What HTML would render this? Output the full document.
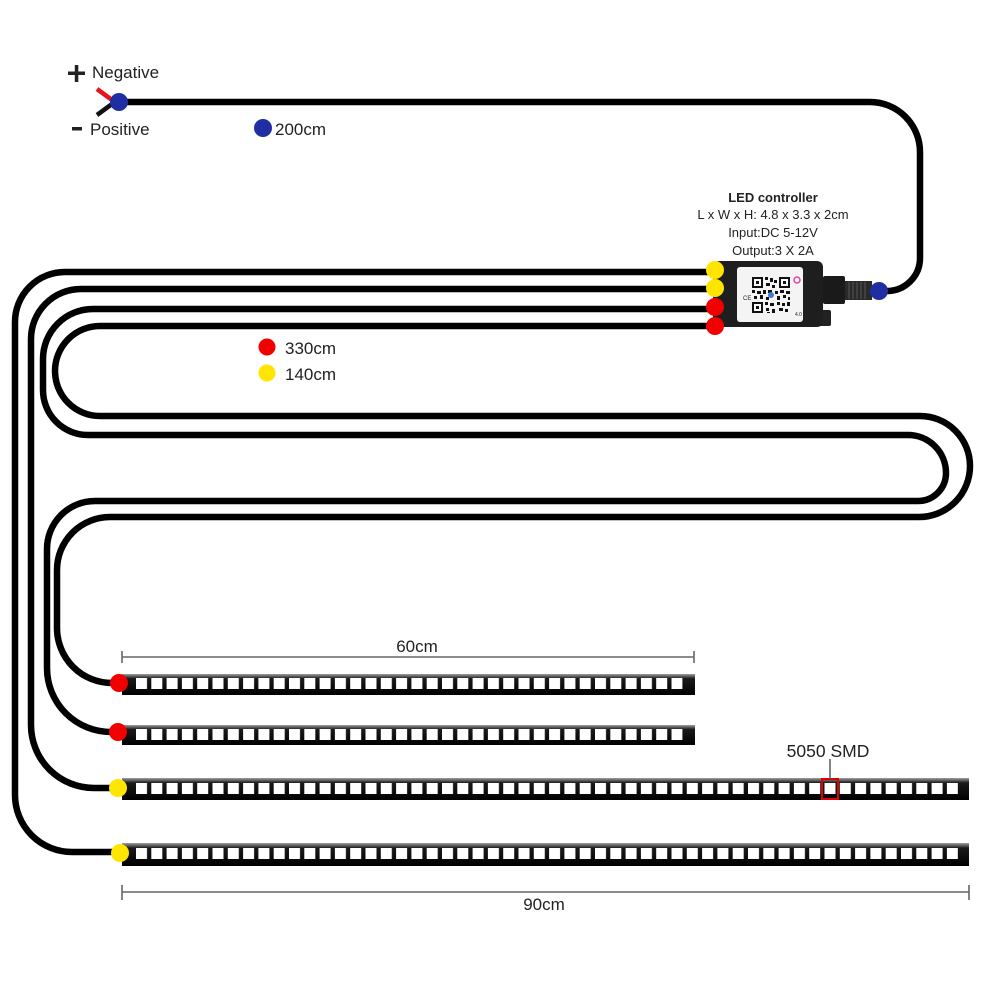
<!DOCTYPE html>
<html>
<head>
<meta charset="utf-8">
<style>
  html,body{margin:0;padding:0;background:#fff;}
  svg{display:block;}
  text{font-family:"Liberation Sans", Arial, sans-serif;fill:#222;}
</style>
</head>
<body>
<svg width="1000" height="1000" viewBox="0 0 1000 1000" xmlns="http://www.w3.org/2000/svg">
  <defs>
    <linearGradient id="sg" x1="0" y1="0" x2="0" y2="1">
      <stop offset="0" stop-color="#a0a0a0"/>
      <stop offset="0.22" stop-color="#1a1a1a"/>
      <stop offset="1" stop-color="#000"/>
    </linearGradient>
    <pattern id="p1" patternUnits="userSpaceOnUse" x="136" y="678" width="15.3" height="11">
      <rect x="0" y="0" width="11" height="11" fill="#fff"/>
    </pattern>
    <pattern id="p2" patternUnits="userSpaceOnUse" x="136" y="729" width="15.3" height="11">
      <rect x="0" y="0" width="11" height="11" fill="#fff"/>
    </pattern>
    <pattern id="p3" patternUnits="userSpaceOnUse" x="136" y="783" width="15.3" height="11">
      <rect x="0" y="0" width="11" height="11" fill="#fff"/>
    </pattern>
    <pattern id="p4" patternUnits="userSpaceOnUse" x="136" y="848" width="15.3" height="11">
      <rect x="0" y="0" width="11" height="11" fill="#fff"/>
    </pattern>
  </defs>

  <!-- Wires -->
  <g fill="none" stroke="#000" stroke-width="6.5">
    <path d="M118,102 H870 A50,50 0 0 1 920,152 V258 A33,33 0 0 1 887,291"/>
    <path d="M715,272 H65 A50,50 0 0 0 15,322 V795 A57,57 0 0 0 72,852 H120"/>
    <path d="M715,289 H81 A50,50 0 0 0 31,339 V725 A63,63 0 0 0 94,788 H118"/>
    <path d="M715,309 H93 A50,50 0 0 0 43,359 V390 A45,45 0 0 0 88,435 H908 A38,38 0 0 1 946,473 A28,28 0 0 1 918,501 H95 A48,48 0 0 0 47,549 V668 A64,64 0 0 0 111,732 H118"/>
    <path d="M715,326 H100 A45,45 0 0 0 100,416 H920 A50,50 0 0 1 970,466 A51,51 0 0 1 919,517 H110 A53,53 0 0 0 57,570 V628 A55,55 0 0 0 112,683 H118"/>
  </g>

  <!-- Top-left power connector -->
  <line x1="97" y1="89" x2="112" y2="100" stroke="#e8141a" stroke-width="4.5"/>
  <line x1="97" y1="115" x2="112" y2="104" stroke="#111" stroke-width="4.5"/>
  <circle cx="119" cy="102" r="9" fill="#1f2fa3"/>
  <rect x="68" y="71.5" width="17" height="3.5" fill="#222"/>
  <rect x="74.8" y="65" width="3.5" height="17" fill="#222"/>
  <rect x="72" y="127" width="10" height="3.5" fill="#222"/>
  <text x="92" y="78" font-size="17">Negative</text>
  <text x="90" y="135" font-size="17">Positive</text>
  <circle cx="263" cy="128" r="9" fill="#1f2fa3"/>
  <text x="275" y="135" font-size="17">200cm</text>

  <!-- Legend -->
  <circle cx="267" cy="347" r="8.5" fill="#f20000"/>
  <text x="285" y="354" font-size="17">330cm</text>
  <circle cx="267" cy="373" r="8.5" fill="#ffe500"/>
  <text x="285" y="380" font-size="17">140cm</text>

  <!-- Controller text -->
  <text x="773" y="202" font-size="13" font-weight="bold" text-anchor="middle">LED controller</text>
  <text x="773" y="219" font-size="13" text-anchor="middle">L x W x H: 4.8 x 3.3 x 2cm</text>
  <text x="773" y="237" font-size="13" text-anchor="middle">Input:DC 5-12V</text>
  <text x="773" y="255" font-size="13" text-anchor="middle">Output:3 X 2A</text>

  <!-- Controller body -->
  <rect x="818" y="310" width="13" height="16" rx="2" fill="#222"/>
  <rect x="713" y="261" width="110" height="66" rx="6" fill="#1e1e1e"/>
  <rect x="823" y="276" width="22" height="28" rx="2" fill="#1a1a1a"/>
  <rect x="845" y="281" width="27" height="19" fill="#2a2a2a"/>
  <g stroke="#555" stroke-width="1">
    <line x1="849" y1="282" x2="849" y2="299"/>
    <line x1="853" y1="282" x2="853" y2="299"/>
    <line x1="857" y1="282" x2="857" y2="299"/>
    <line x1="861" y1="282" x2="861" y2="299"/>
    <line x1="865" y1="282" x2="865" y2="299"/>
  </g>
  <circle cx="879" cy="291" r="9" fill="#1f2fa3"/>
  <!-- Label -->
  <rect x="737" y="267" width="66" height="55" rx="3" fill="#f4f4f4"/>
  <g fill="#111">
    <!-- finder patterns -->
    <rect x="752" y="277" width="11" height="11"/>
    <rect x="754" y="279" width="7" height="7" fill="#fff"/>
    <rect x="756" y="281" width="3" height="3"/>
    <rect x="779" y="277" width="11" height="11"/>
    <rect x="781" y="279" width="7" height="7" fill="#fff"/>
    <rect x="783" y="281" width="3" height="3"/>
    <rect x="752" y="302" width="11" height="11"/>
    <rect x="754" y="304" width="7" height="7" fill="#fff"/>
    <rect x="756" y="306" width="3" height="3"/>
    <!-- modules -->
    <rect x="765" y="277" width="3" height="3"/><rect x="770" y="278" width="3" height="4"/><rect x="774" y="280" width="3" height="3"/>
    <rect x="766" y="283" width="4" height="3"/><rect x="772" y="285" width="3" height="3"/>
    <rect x="752" y="290" width="3" height="3"/><rect x="757" y="291" width="4" height="3"/><rect x="763" y="290" width="3" height="4"/>
    <rect x="768" y="290" width="4" height="3"/><rect x="775" y="291" width="3" height="3"/><rect x="780" y="290" width="4" height="3"/><rect x="786" y="291" width="4" height="3"/>
    <rect x="754" y="296" width="3" height="3"/><rect x="760" y="295" width="3" height="4"/><rect x="766" y="297" width="3" height="3"/>
    <rect x="777" y="296" width="3" height="4"/><rect x="783" y="295" width="3" height="3"/><rect x="788" y="297" width="2" height="3"/>
    <rect x="765" y="302" width="3" height="3"/><rect x="770" y="303" width="4" height="3"/><rect x="777" y="302" width="3" height="3"/>
    <rect x="782" y="303" width="3" height="3"/><rect x="787" y="302" width="3" height="4"/>
    <rect x="766" y="308" width="3" height="3"/><rect x="772" y="309" width="3" height="4"/><rect x="779" y="308" width="4" height="3"/>
    <rect x="785" y="309" width="3" height="3"/><rect x="767" y="312" width="3" height="1"/>
  </g>
  <circle cx="771" cy="295" r="3" fill="#3b7ad8"/>
  <circle cx="797" cy="280" r="3" fill="none" stroke="#e04aa0" stroke-width="1.5"/>
  <text x="743" y="300" font-size="6" fill="#555">CE</text>
  <text x="795" y="316" font-size="5" fill="#1a50b0">4.0</text>

  <!-- Controller wire dots -->
  <circle cx="715" cy="270" r="9" fill="#ffe500"/>
  <circle cx="715" cy="288" r="9" fill="#ffe500"/>
  <circle cx="715" cy="307" r="9" fill="#f20000"/>
  <circle cx="715" cy="326" r="9" fill="#f20000"/>

  <!-- Dimension 60cm -->
  <g stroke="#666" stroke-width="1.6">
    <line x1="122" y1="657" x2="694" y2="657"/>
    <line x1="122" y1="651" x2="122" y2="663"/>
    <line x1="694" y1="651" x2="694" y2="663"/>
  </g>
  <text x="417" y="652" font-size="17" text-anchor="middle">60cm</text>

  <!-- Strips -->
  <rect x="122" y="674" width="573" height="21" fill="url(#sg)"/>
  <rect x="136" y="678" width="546.5" height="11" fill="url(#p1)"/>
  <rect x="122" y="725" width="573" height="20" fill="url(#sg)"/>
  <rect x="136" y="729" width="546.5" height="11" fill="url(#p2)"/>
  <rect x="122" y="778" width="847" height="22" fill="url(#sg)"/>
  <rect x="136" y="783" width="822" height="11" fill="url(#p3)"/>
  <rect x="122" y="843" width="847" height="23" fill="url(#sg)"/>
  <rect x="136" y="848" width="822" height="11" fill="url(#p4)"/>

  <!-- Strip dots -->
  <circle cx="119" cy="683" r="9" fill="#f20000"/>
  <circle cx="118" cy="732" r="9" fill="#f20000"/>
  <circle cx="118" cy="788" r="9" fill="#ffe500"/>
  <circle cx="120" cy="853" r="9" fill="#ffe500"/>

  <!-- 5050 SMD callout -->
  <rect x="822" y="779" width="16" height="20" fill="none" stroke="#e00000" stroke-width="2"/>
  <line x1="830" y1="759" x2="830" y2="779" stroke="#666" stroke-width="1.6"/>
  <text x="828" y="757" font-size="17.5" text-anchor="middle">5050 SMD</text>

  <!-- Dimension 90cm -->
  <g stroke="#666" stroke-width="1.6">
    <line x1="122" y1="892" x2="969" y2="892"/>
    <line x1="122" y1="885" x2="122" y2="900"/>
    <line x1="969" y1="885" x2="969" y2="900"/>
  </g>
  <text x="544" y="910" font-size="17" text-anchor="middle">90cm</text>
</svg>
</body>
</html>
